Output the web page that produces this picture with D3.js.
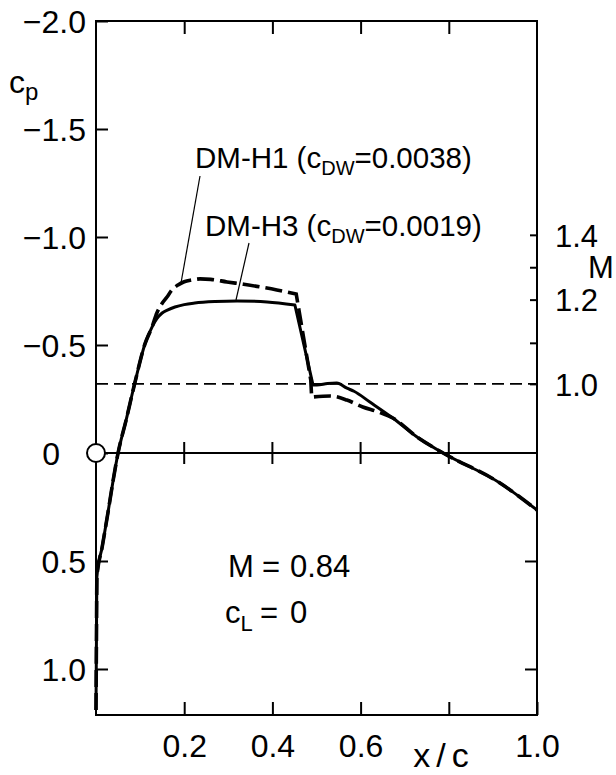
<!DOCTYPE html>
<html>
<head>
<meta charset="utf-8">
<script src="https://cdn.jsdelivr.net/npm/d3@7"></script>
<style>
  body { margin: 0; background: #fff; }
  svg text { font-family: "Liberation Sans", Arial, sans-serif; fill: #000; }
</style>
</head>
<body>
<svg id="chart" width="616" height="775"></svg>
<script>
// pressure distributions (x/c, cp)
const h3X  = [0.0, 0.001, 0.002, 0.014, 0.027, 0.039, 0.050, 0.068, 0.088, 0.111, 0.127, 0.138, 0.150, 0.163, 0.179, 0.200, 0.224, 0.270, 0.320, 0.388, 0.451, 0.492, 0.501, 0.525, 0.546, 0.569, 0.585, 0.621, 0.673, 0.728, 0.787, 0.916, 1.0];
const h3Cp = [1.19, 0.866, 0.574, 0.435, 0.278, 0.125, 0.0, -0.15, -0.324, -0.505, -0.583, -0.622, -0.648, -0.663, -0.676, -0.687, -0.694, -0.701, -0.704, -0.699, -0.685, -0.315, -0.315, -0.322, -0.324, -0.30, -0.286, -0.236, -0.162, -0.074, 0.0, 0.139, 0.264];
const h3Shock = [20, 21]; // points joined by a straight shock

const h1X  = [0.0, 0.001, 0.002, 0.014, 0.027, 0.039, 0.050, 0.068, 0.088, 0.111, 0.127, 0.138, 0.149, 0.161, 0.172, 0.186, 0.200, 0.218, 0.236, 0.260, 0.297, 0.335, 0.372, 0.410, 0.454, 0.487, 0.489, 0.531, 0.569, 0.605, 0.640, 0.673, 0.728, 0.787, 0.916, 1.0];
const h1Cp = [1.19, 0.866, 0.574, 0.435, 0.278, 0.125, 0.0, -0.15, -0.324, -0.505, -0.583, -0.648, -0.690, -0.722, -0.754, -0.778, -0.793, -0.801, -0.806, -0.804, -0.792, -0.781, -0.769, -0.755, -0.736, -0.338, -0.259, -0.264, -0.245, -0.213, -0.190, -0.162, -0.074, 0.0, 0.139, 0.264];
const h1Shock = [24, 26];

const cpTicks = [-2.0, -1.5, -1.0, -0.5, 0, 0.5, 1.0];
const cpLabels = ["\u22122.0", "\u22121.5", "\u22121.0", "\u22120.5", "0", "0.5", "1.0"];
const xTicks = [0.2, 0.4, 0.6, 0.8, 1.0];
const xLabels = ["0.2", "0.4", "0.6", "", "1.0"];
// local Mach number scale on the right, placed at the cp it corresponds to
const machTicks = [1.0, 1.1, 1.2, 1.3, 1.4];
const machCp = [-0.32, -0.51, -0.71, -0.86, -1.01];
const machLabels = ["1.0", "", "1.2", "", "1.4"];
const sonicCp = -0.32;

const svg = d3.select("#chart");
const x = d3.scaleLinear().domain([0, 1]).range([96, 537]);
const y = d3.scaleLinear().domain([-2.0, 1.213]).range([21, 715]);
const m = d3.scaleLinear().domain(machTicks).range(machCp.map(c => y(c)));

const ink = "#000";

// frame
svg.append("rect")
  .attr("x", x(0)).attr("y", y(-2.0))
  .attr("width", x(1) - x(0)).attr("height", y.range()[1] - y(-2.0))
  .attr("fill", "none").attr("stroke", ink).attr("stroke-width", 2);

// left cp axis, ticks pointing inwards
const leftAxis = svg.append("g").attr("transform", `translate(${x(0)},0)`)
  .call(d3.axisLeft(y).tickValues(cpTicks).tickSizeInner(-12).tickSizeOuter(0).tickPadding(10)
    .tickFormat((d, i) => cpLabels[i]));
leftAxis.select(".domain").remove();
leftAxis.selectAll(".tick line").attr("stroke", ink).attr("stroke-width", 2);
leftAxis.selectAll(".tick text").attr("font-size", 32).attr("font-family", null).attr("dy", "0.36em")
  .filter(d => d === 0).attr("dx", -26);

// cp ticks repeated on the right axis below zero
const rightCpAxis = svg.append("g").attr("transform", `translate(${x(1)},0)`)
  .call(d3.axisRight(y).tickValues([0.5, 1.0]).tickSizeInner(-12).tickSizeOuter(0).tickFormat(""));
rightCpAxis.select(".domain").remove();
rightCpAxis.selectAll(".tick line").attr("stroke", ink).attr("stroke-width", 2);

// local Mach axis on the right
const machAxis = svg.append("g").attr("transform", `translate(${x(1)},0)`)
  .call(d3.axisRight(m).tickValues(machTicks).tickSizeInner(-7).tickSizeOuter(0).tickPadding(18)
    .tickFormat((d, i) => machLabels[i]));
machAxis.select(".domain").remove();
machAxis.selectAll(".tick line").attr("stroke", ink).attr("stroke-width", 2);
machAxis.selectAll(".tick text").attr("font-size", 31).attr("font-family", null).attr("dy", "0.36em");

svg.append("text").attr("x", 588).attr("y", 278).attr("font-size", 31).text("M");

// bottom x/c axis
const bottomAxis = svg.append("g").attr("transform", `translate(0,${y.range()[1]})`)
  .call(d3.axisBottom(x).tickValues(xTicks).tickSizeInner(-13).tickSizeOuter(0).tickPadding(19)
    .tickFormat((d, i) => xLabels[i]));
bottomAxis.select(".domain").remove();
bottomAxis.selectAll(".tick line").attr("stroke", ink).attr("stroke-width", 2);
bottomAxis.selectAll(".tick text").attr("font-size", 32).attr("font-family", null);

// top ticks
const topAxis = svg.append("g").attr("transform", `translate(0,${y(-2.0)})`)
  .call(d3.axisTop(x).tickValues(xTicks.slice(0, 4)).tickSizeInner(-13).tickSizeOuter(0).tickFormat(""));
topAxis.select(".domain").remove();
topAxis.selectAll(".tick line").attr("stroke", ink).attr("stroke-width", 2);

svg.append("text").attr("x", 444).attr("y", 767).attr("font-size", 34)
  .attr("text-anchor", "middle").attr("letter-spacing", 6).text("x/c");

// cp label
const cpLab = svg.append("text").attr("x", 9).attr("y", 93).attr("font-size", 32);
cpLab.append("tspan").text("c");
cpLab.append("tspan").attr("font-size", 24).attr("dy", 7).text("p");

// zero line with crossing ticks
svg.append("line").attr("x1", x(0)).attr("x2", x(1)).attr("y1", y(0)).attr("y2", y(0))
  .attr("stroke", ink).attr("stroke-width", 2);
svg.append("g").selectAll("line").data(xTicks.slice(0, 4)).join("line")
  .attr("x1", d => x(d)).attr("x2", d => x(d))
  .attr("y1", y(0) - 11).attr("y2", y(0) + 11)
  .attr("stroke", ink).attr("stroke-width", 2);

// sonic line cp*
svg.append("line").attr("x1", x(0)).attr("x2", x(1)).attr("y1", y(sonicCp)).attr("y2", y(sonicCp))
  .attr("stroke", ink).attr("stroke-width", 1.6).attr("stroke-dasharray", "12,6");

// curves: smooth everywhere except straight across the shock
const smooth = d3.line().x(d => x(d[0])).y(d => y(d[1])).curve(d3.curveMonotoneX);
function shockPath(pts, s0, s1) {
  const before = smooth(pts.slice(0, s0 + 1));
  const jump = pts.slice(s0 + 1, s1 + 1).map(p => `L${x(p[0])},${y(p[1])}`).join("");
  const after = smooth(pts.slice(s1)).replace(/^M/, "L");
  return before + jump + after;
}
svg.append("path").attr("d", shockPath(d3.zip(h3X, h3Cp), h3Shock[0], h3Shock[1]))
  .attr("fill", "none").attr("stroke", ink).attr("stroke-width", 3).attr("stroke-linejoin", "round");
svg.append("path").attr("d", shockPath(d3.zip(h1X, h1Cp), h1Shock[0], h1Shock[1]))
  .attr("fill", "none").attr("stroke", ink).attr("stroke-width", 3.6).attr("stroke-dasharray", "17,6");

// stagnation point marker
svg.append("circle").attr("cx", x(0)).attr("cy", y(0)).attr("r", 9)
  .attr("fill", "#fff").attr("stroke", ink).attr("stroke-width", 2);

// curve labels with leader lines
function label(tx, ty, name, val) {
  const t = svg.append("text").attr("x", tx).attr("y", ty).attr("font-size", 29.5);
  t.append("tspan").text(name + "  (c");
  t.append("tspan").attr("font-size", 20).attr("dy", 7).text("DW");
  t.append("tspan").attr("dy", -7).text("=" + val + ")");
}
label(195, 168, "DM-H1", "0.0038");
label(205, 236, "DM-H3", "0.0019");
svg.append("line").attr("x1", 200).attr("y1", 176).attr("x2", 181).attr("y2", 283)
  .attr("stroke", ink).attr("stroke-width", 1.2);
svg.append("line").attr("x1", 249).attr("y1", 243).attr("x2", 236).attr("y2", 300)
  .attr("stroke", ink).attr("stroke-width", 1.2);

// flow conditions
const c1 = svg.append("text").attr("y", 577).attr("font-size", 31);
c1.append("tspan").attr("x", 228).text("M");
c1.append("tspan").attr("x", 262).text("=");
c1.append("tspan").attr("x", 290).text("0.84");
const c2 = svg.append("text").attr("y", 623).attr("font-size", 31);
c2.append("tspan").attr("x", 225).text("c");
c2.append("tspan").attr("font-size", 22).attr("dy", 8).text("L");
c2.append("tspan").attr("x", 260).attr("dy", -8).text("=");
c2.append("tspan").attr("x", 290).text("0");
</script>
</body>
</html>
